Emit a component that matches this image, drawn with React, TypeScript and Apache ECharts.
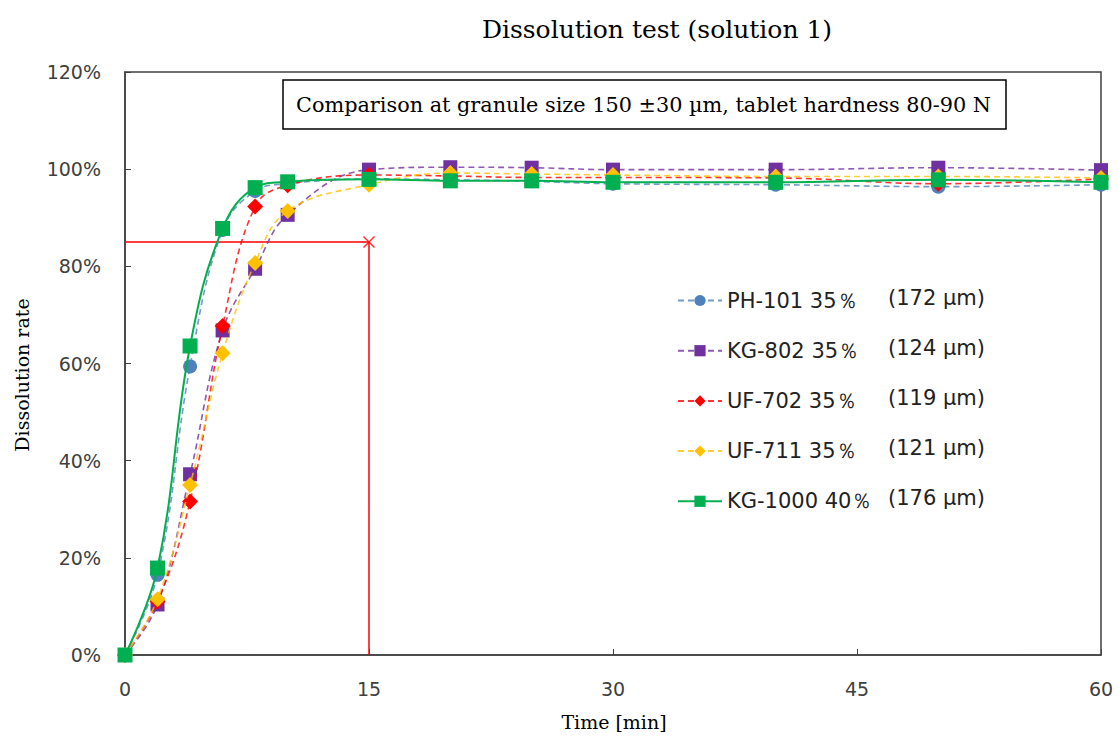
import React, { useEffect, useRef } from "react";
import * as echarts from "echarts";

const times = [0, 2, 4, 6, 8, 10, 15, 20, 25, 30, 40, 50, 60];
const seriesNames = ["PH-101 35％", "KG-802 35％", "UF-702 35％", "UF-711 35％", "KG-1000 40％"];
const sizeLabels = ["(172 µm)", "(124 µm)", "(119 µm)", "(121 µm)", "(176 µm)"];
const ph101 = [0, 16.5, 59.4, 87.5, 95.5, 97.0, 98.0, 97.8, 97.5, 97.0, 96.8, 96.4, 96.8];
const kg802 = [0, 10.4, 37.2, 66.8, 79.5, 90.6, 99.9, 100.4, 100.3, 99.9, 99.9, 100.3, 99.8];
const uf702 = [0, 11.0, 31.6, 67.7, 92.3, 96.7, 98.8, 98.6, 98.3, 98.3, 98.2, 97.0, 98.0];
const uf711 = [0, 11.5, 35.0, 62.1, 80.7, 91.4, 96.8, 99.2, 99.0, 98.8, 98.5, 98.5, 98.2];
const kg1000 = [0, 17.9, 63.6, 87.8, 96.2, 97.4, 97.9, 97.6, 97.6, 97.3, 97.3, 97.8, 97.3];
const refX = [0, 15, 15];
const refY = [85, 85, 0];
const xTicks = [0, 15, 30, 45, 60];
const yTicks = [0, 20, 40, 60, 80, 100, 120];

const title = "Dissolution test (solution 1)";
const note = "Comparison at granule size 150 ±30 µm, tablet hardness 80-90 N";
const yName = "Dissolution rate";
const xName = "Time [min]";

const colors = ["#4F81BD", "#7030A0", "#FF0000", "#FFC000", "#00B050"];
const symbols = ["circle", "rect", "diamond", "diamond", "rect"];
const symbolSizes = [14, 14, 16, 16, 15];
const values = [ph101, kg802, uf702, uf711, kg1000];

export default function App() {
  const ref = useRef<HTMLDivElement>(null);
  useEffect(() => {
    if (!ref.current) return;
    const chart = echarts.init(ref.current, null, { renderer: "svg" });
    const lineSeries = values.map((vals, i) => ({
      name: seriesNames[i],
      type: "line",
      data: times.map((t, j) => [t, vals[j]]),
      smooth: 0.4,
      symbol: symbols[i],
      symbolSize: symbolSizes[i],
      itemStyle: { color: colors[i] },
      lineStyle: {
        color: colors[i],
        width: i === 4 ? 2 : 1.6,
        type: i === 4 ? "solid" : [6, 4],
        opacity: i === 4 ? 1 : 0.8,
      },
      z: 3 + i,
    }));
    chart.setOption({
      animation: false,
      title: {
        text: title,
        left: 652,
        top: 12,
        textAlign: "center",
        textStyle: { fontFamily: "DejaVu Serif", fontSize: 25, fontWeight: "normal", color: "#000" },
      },
      grid: {
        left: 125,
        right: 17,
        top: 72,
        bottom: 85,
        show: true,
        borderColor: "#404040",
        borderWidth: 1.5,
        backgroundColor: "transparent",
      },
      legend: {
        data: seriesNames,
        orient: "vertical",
        left: 672,
        top: 282,
        itemWidth: 44,
        itemHeight: 14,
        itemGap: 25.7,
        formatter: (name: string) => {
          const idx = seriesNames.indexOf(name);
          return `{a|${name}}{b|${sizeLabels[idx]}}`;
        },
        textStyle: {
          fontFamily: "DejaVu Sans",
          fontSize: 21,
          color: "#222",
          lineHeight: 22,
          rich: {
            a: { fontFamily: "DejaVu Sans", fontSize: 21, width: 161, color: "#222" },
            b: { fontFamily: "DejaVu Sans", fontSize: 21, color: "#222", padding: [0, 0, 6, 0] },
          },
        },
      },
      xAxis: {
        type: "value",
        min: 0,
        max: 60,
        interval: 15,
        axisLine: { show: true, lineStyle: { color: "#404040", width: 1.5 } },
        axisTick: { show: true, inside: true, length: 6, lineStyle: { color: "#404040" } },
        axisLabel: {
          margin: 24,
          fontFamily: "DejaVu Sans",
          fontSize: 19,
          color: "#404040",
          formatter: (v: number) => (xTicks.includes(v) ? String(v) : ""),
        },
        splitLine: { show: false },
      },
      yAxis: {
        type: "value",
        min: 0,
        max: 120,
        interval: 20,
        axisLine: { show: true, lineStyle: { color: "#404040", width: 1.5 } },
        axisTick: { show: true, inside: true, length: 6, lineStyle: { color: "#404040" } },
        axisLabel: {
          margin: 24,
          fontFamily: "DejaVu Sans",
          fontSize: 19,
          color: "#404040",
          formatter: (v: number) => (yTicks.includes(v) ? `${v}%` : ""),
        },
        splitLine: { show: false },
      },
      graphic: [
        {
          type: "rect",
          shape: { x: 283, y: 80, width: 723, height: 49 },
          style: { fill: "#fff", stroke: "#000", lineWidth: 1.5 },
          z: 10,
        },
        {
          type: "text",
          x: 296,
          y: 105,
          style: {
            text: note,
            font: "20.8px 'DejaVu Serif'",
            fill: "#000",
            verticalAlign: "middle",
          },
          z: 11,
        },
        {
          type: "text",
          x: 22,
          y: 375,
          rotation: Math.PI / 2,
          style: {
            text: yName,
            font: "19px 'DejaVu Serif'",
            fill: "#000",
            align: "center",
            verticalAlign: "middle",
          },
        },
        {
          type: "text",
          x: 614,
          y: 722,
          style: {
            text: xName,
            font: "19px 'DejaVu Serif'",
            fill: "#000",
            align: "center",
            verticalAlign: "middle",
          },
        },
      ],
      series: [
        {
          name: "ref",
          type: "line",
          data: refX.map((x, i) => [x, refY[i]]),
          symbol: "none",
          lineStyle: { color: "#FF0000", width: 1.5 },
          silent: true,
          z: 2,
        },
        {
          name: "refMark",
          type: "scatter",
          data: [[refX[1], refY[1]]],
          symbol: "path://M0,0L10,10M10,0L0,10",
          symbolSize: 11,
          itemStyle: { color: "transparent", borderColor: "#FF0000", borderWidth: 1.5 },
          silent: true,
          z: 2,
        },
        ...lineSeries,
      ],
    });
    return () => chart.dispose();
  }, []);
  return (
    <div
      ref={ref}
      style={{ position: "absolute", left: 0, top: 0, width: 1118, height: 740, background: "#fff" }}
    />
  );
}
